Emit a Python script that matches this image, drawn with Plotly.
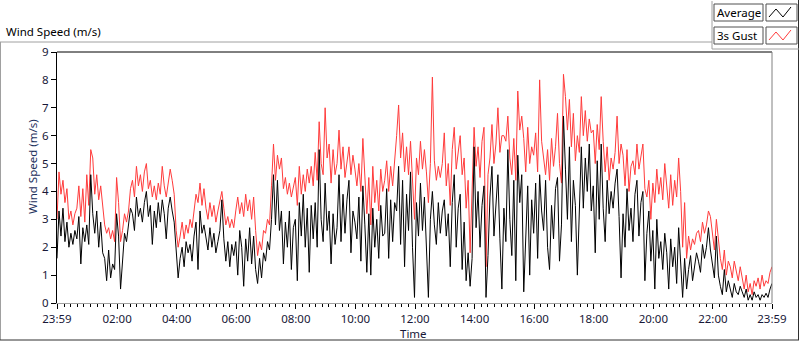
import pandas as pd
import plotly.graph_objects as go

# ---------------- data (one value every 4 minutes, 23:59 -> 23:59) ----------------
avg_speed = [
    1.6, 3.3, 2.4, 3.4, 2.2, 2.9, 2.0, 2.5, 2.1, 2.6, 2.3, 3.1, 1.4, 2.7, 2.2,
    2.8, 2.1, 4.6, 3.2, 2.5, 3.3, 2.0, 2.9, 1.8, 1.6, 0.8, 1.9, 0.9, 1.4, 1.2,
    3.2, 2.4, 0.5, 1.7, 2.5, 2.2, 2.8, 3.4, 3.2, 2.6, 3.8, 3.1, 3.4, 2.9, 3.6,
    4.0, 3.1, 3.5, 2.1, 3.3, 2.7, 3.6, 2.9, 3.7, 3.2, 2.3, 3.4, 3.8, 3.3, 2.9,
    1.9, 0.9, 1.6, 2.0, 1.3, 2.2, 1.8, 2.1, 1.5, 2.4, 2.9, 1.2, 3.3, 2.5, 2.8,
    2.4, 1.9, 2.7, 2.0, 2.5, 1.8, 2.2, 2.6, 3.7, 2.3, 1.5, 2.2, 1.3, 2.1, 1.7,
    2.2, 1.0, 2.6, 2.0, 0.6, 2.3, 1.5, 2.7, 1.4, 2.4, 1.2, 0.7, 1.6, 0.9, 1.8,
    1.5, 2.2, 1.9, 3.0, 4.6, 2.8, 4.4, 2.6, 3.3, 1.4, 2.9, 2.0, 3.3, 1.2, 2.7,
    3.0, 0.8, 3.6, 2.4, 3.9, 2.0, 3.4, 1.1, 3.5, 2.3, 3.6, 2.0, 5.5, 3.0, 2.2,
    4.3, 2.6, 3.3, 1.4, 3.2, 2.1, 2.7, 4.6, 2.2, 3.9, 2.5, 3.7, 4.4, 1.8, 3.3,
    2.9, 2.3, 3.8, 1.5, 4.2, 2.8, 1.1, 3.2, 1.0, 3.4, 2.0, 3.0, 1.6, 3.5, 2.4,
    2.5, 4.1, 1.6, 3.7, 2.2, 3.6, 3.3, 4.9, 2.1, 4.4, 1.3, 3.9, 2.6, 4.7, 2.0,
    0.2, 3.6, 2.4, 4.3, 2.6, 3.8, 2.2, 0.2, 3.0, 4.0, 2.8, 2.1, 3.6, 2.5, 3.3,
    3.7, 2.4, 3.2, 1.3, 3.6, 4.6, 2.0, 3.4, 3.9, 1.2, 2.9, 0.8, 1.8, 0.6, 1.6,
    5.6, 2.7, 4.0, 2.0, 3.5, 4.2, 0.2, 1.7, 3.8, 4.9, 2.4, 3.6, 4.6, 2.3, 0.5,
    3.4, 2.2, 5.5, 3.0, 1.7, 4.4, 0.8, 5.3, 3.6, 4.6, 0.4, 2.4, 4.2, 1.0, 3.7,
    2.5, 4.3, 1.6, 4.6, 3.3, 2.6, 4.4, 2.0, 1.2, 3.5, 2.3, 4.1, 4.5, 1.5, 2.8,
    6.7, 4.8, 3.0, 5.6, 2.2, 4.4, 3.5, 1.0, 3.8, 5.6, 3.4, 5.2, 4.0, 5.7, 3.3,
    4.2, 1.8, 5.1, 3.0, 5.7, 3.4, 2.2, 4.4, 3.2, 4.0, 3.4, 4.3, 4.8, 3.1, 0.9,
    3.2, 2.0, 4.1, 2.6, 3.4, 2.2, 3.9, 4.4, 2.4, 3.6, 4.0, 0.8, 2.5, 3.3, 1.5,
    2.6, 0.5, 3.0, 1.6, 2.2, 1.2, 2.5, 1.8, 0.5, 2.3, 1.3, 2.0, 0.7, 2.7, 1.5,
    0.2, 1.6, 0.5, 1.2, 1.7, 0.8, 1.4, 1.8, 1.5, 1.1, 2.1, 1.6, 2.0, 2.7, 1.9,
    1.3, 0.9, 2.4, 1.0, 0.6, 0.3, 1.2, 0.4, 0.8, 0.5, 0.2, 0.7, 0.4, 0.3, 0.6,
    0.4, 0.2, 0.5, 0.1, 0.3, 0.1, 0.4, 0.2, 0.3, 0.1, 0.3, 0.2, 0.35, 0.2, 0.5,
    0.7,
]

gust_speed = [
    3.0, 4.7, 3.9, 4.4, 3.6, 4.1, 3.0, 3.3, 2.8, 3.2, 3.4, 4.2, 3.1, 4.1, 2.9,
    4.6, 3.5, 5.5, 5.2, 3.9, 4.6, 3.7, 4.2, 3.4, 2.8, 2.5, 2.7, 2.3, 2.6, 2.2,
    4.5, 3.6, 2.2, 2.6, 3.2, 2.9, 3.3, 4.1, 4.4, 3.8, 4.9, 4.2, 4.6, 4.0, 4.7,
    5.0, 4.1, 4.4, 3.8, 4.2, 3.7, 4.3, 3.9, 4.9, 4.2, 3.8, 4.3, 4.8, 4.4, 3.9,
    2.6, 2.0, 2.4, 2.9, 2.3, 2.8, 2.5, 3.0, 2.7, 3.3, 3.9, 3.6, 4.3, 3.5, 4.1,
    3.4, 3.0, 3.6, 3.1, 3.5, 2.9, 3.3, 3.6, 4.0, 3.4, 2.8, 3.1, 2.7, 3.0, 2.7,
    3.3, 3.8, 3.2, 3.6, 3.1, 3.9, 3.3, 3.7, 3.0, 3.8, 2.6, 1.7, 2.2, 1.9, 2.6,
    2.5, 3.0, 2.8, 4.2, 5.7, 4.4, 5.3, 4.8, 5.2, 4.1, 4.5, 3.9, 4.3, 3.8, 4.2,
    4.5, 3.5, 4.9, 3.9, 4.6, 4.0, 4.8, 4.3, 4.9, 4.2, 5.4, 4.4, 6.5, 5.0, 4.6,
    7.0, 5.2, 5.7, 4.3, 5.5, 4.6, 5.0, 6.2, 4.8, 5.6, 4.5, 5.0, 5.6, 4.6, 5.3,
    4.8, 4.2, 5.0, 4.0, 5.9, 4.7, 3.2, 4.5, 2.8, 4.9, 3.6, 4.4, 3.3, 4.8, 4.0,
    4.4, 5.1, 4.0, 4.9, 4.2, 5.0, 6.0, 7.1, 5.2, 6.1, 4.7, 5.6, 4.6, 5.8, 4.2,
    3.0, 5.2, 4.6, 5.8, 4.8, 5.5, 4.7, 3.6, 5.0, 8.1, 5.1, 4.4, 4.9, 4.5, 5.0,
    6.1, 4.2, 5.0, 3.5, 5.5, 6.3, 4.8, 5.4, 6.0, 4.6, 5.2, 3.4, 4.4, 1.8, 3.9,
    6.3, 4.9, 5.6, 4.5, 5.8, 6.3, 1.3, 4.6, 5.2, 6.4, 5.0, 5.7, 7.0, 5.4, 6.0,
    6.0, 5.8, 6.7, 5.2, 4.6, 5.9, 4.4, 7.6, 6.2, 6.7, 5.9, 4.7, 6.3, 5.0, 5.6,
    5.3, 6.1, 4.7, 8.0, 5.8, 5.2, 4.6, 5.5, 4.4, 5.9, 4.9, 5.6, 6.8, 5.0, 4.3,
    8.2, 7.4, 6.2, 7.3, 5.6, 6.8, 5.1, 6.0, 5.4, 7.4, 6.0, 6.9, 5.8, 6.6, 6.1,
    6.2, 5.0, 6.4, 5.5, 7.4, 5.8, 4.7, 5.6, 4.4, 5.2, 4.8, 5.4, 6.7, 5.0, 5.7,
    5.3, 4.2, 5.5, 4.0, 4.9, 5.1, 4.6, 5.7, 4.8, 5.2, 5.7, 4.1, 3.8, 4.4, 3.0,
    4.3, 3.6, 4.8, 3.9, 4.5, 3.7, 5.0, 4.2, 3.4, 4.6, 3.5, 4.4, 3.8, 5.2, 4.0,
    2.0, 3.6, 1.6, 2.4, 1.9, 2.3, 2.1, 2.5, 2.6, 2.2, 2.9, 2.5, 2.8, 3.3, 3.1,
    2.4, 1.9, 3.0, 2.2, 1.6, 1.2, 1.9, 1.0, 1.5, 1.3, 0.9, 1.5, 1.1, 0.8, 1.3,
    0.9, 0.5, 1.0, 0.4, 0.7, 0.3, 0.8, 0.6, 0.9, 0.5, 1.0, 0.6, 0.8, 0.7, 1.1,
    1.3,
]

times = pd.date_range("2020-01-01 23:59", periods=len(avg_speed), freq="4min")

tick_times = ["2020-01-01 23:59", "2020-01-02 02:00", "2020-01-02 04:00",
              "2020-01-02 06:00", "2020-01-02 08:00", "2020-01-02 10:00",
              "2020-01-02 12:00", "2020-01-02 14:00", "2020-01-02 16:00",
              "2020-01-02 18:00", "2020-01-02 20:00", "2020-01-02 22:00",
              "2020-01-02 23:59"]
tick_labels = ["23:59", "02:00", "04:00", "06:00", "08:00", "10:00", "12:00",
               "14:00", "16:00", "18:00", "20:00", "22:00", "23:59"]
y_ticks = list(range(0, 10))

series_names = ["Average", "3s Gust"]
series_colors = ["#000000", "#ff3b3b"]

# ---------------- figure ----------------
W, H = 800, 342
L, R, T, B = 57, 772, 52, 303          # plot area in pixels


def px(x):
    return (x - L) / (R - L)


def py(y):
    return (B - y) / (B - T)


FONT = "Noto Sans"
FS = 11.5
TICK_COL = "#181838"

fig = go.Figure()
fig.add_trace(go.Scatter(x=times, y=gust_speed, mode="lines", name=series_names[1],
                         line=dict(color=series_colors[1], width=1), showlegend=False))
fig.add_trace(go.Scatter(x=times, y=avg_speed, mode="lines", name=series_names[0],
                         line=dict(color=series_colors[0], width=1), showlegend=False))

fig.update_layout(
    width=W, height=H,
    margin=dict(l=L, r=W - R, t=T, b=H - B, pad=0),
    paper_bgcolor="white", plot_bgcolor="white",
    font=dict(family=FONT, size=FS, color=TICK_COL),
    showlegend=False,
)

fig.update_xaxes(
    range=[tick_times[0], tick_times[-1]],
    tickmode="array", tickvals=tick_times, ticktext=tick_labels,
    ticks="outside", ticklen=5, tickwidth=1, tickcolor="black",
    showline=True, linecolor="#a0a0a0", linewidth=1,
    showgrid=False, zeroline=False,
    tickfont=dict(family=FONT, size=FS, color=TICK_COL),
    minor=dict(tickmode="linear", tick0="2020-01-02 02:00", dtick=800000,
               ticks="outside", ticklen=3, tickwidth=1, tickcolor="black",
               showgrid=False),
)
fig.update_yaxes(
    range=[0, 9], tickmode="array", tickvals=y_ticks,
    ticks="outside", ticklen=5, tickwidth=1, tickcolor="black",
    showline=True, linecolor="black", linewidth=1,
    showgrid=False, zeroline=False,
    tickfont=dict(family=FONT, size=FS, color=TICK_COL),
)

shapes = []


def hline(x0, x1, y, color, w=1):
    shapes.append(dict(type="line", xref="paper", yref="paper",
                       x0=px(x0), x1=px(x1), y0=py(y), y1=py(y),
                       line=dict(color=color, width=w)))


def vline(x, y0, y1, color, w=1):
    shapes.append(dict(type="line", xref="paper", yref="paper",
                       x0=px(x), x1=px(x), y0=py(y0), y1=py(y1),
                       line=dict(color=color, width=w)))


def rect(x0, y0, x1, y1, color, fill="white"):
    shapes.append(dict(type="rect", xref="paper", yref="paper",
                       x0=px(x0), x1=px(x1), y0=py(y1), y1=py(y0),
                       line=dict(color=color, width=1), fillcolor=fill))


# outer frame
hline(0, 712, 42, "#a0a0a0")
vline(0.5, 42, 340, "#a0a0a0")
hline(0, 799, 340, "#303030")
vline(798.5, 0, 340, "#303030")
# legend panel
vline(712, 1, 49, "#a0a0a0")
hline(712, 799, 49, "#a0a0a0")
# plot frame (top / right)
hline(L, R, T, "black")
vline(R, T, B, "#808080")

# legend boxes
leg_y = [(4, 21), (27, 44)]
for (y0, y1), name, col in zip(leg_y, series_names, series_colors):
    rect(714, y0, 763, y1, "#505050")
    rect(766, y0, 797, y1, "#505050")
    pts = [(769, y1 - 4), (776, y0 + 5), (783, y1 - 4), (791, y0 + 3)]
    path = "M " + " L ".join(f"{px(a):.5f},{py(b):.5f}" for a, b in pts)
    shapes.append(dict(type="path", xref="paper", yref="paper", path=path,
                       line=dict(color=col, width=1)))

annotations = []
for (y0, y1), name in zip(leg_y, series_names):
    annotations.append(dict(text=name, xref="paper", yref="paper",
                            x=px(715), y=py((y0 + y1) / 2), xanchor="left", yanchor="middle",
                            showarrow=False, font=dict(family=FONT, size=FS, color="black")))

annotations.append(dict(text="Wind Speed (m/s)", xref="paper", yref="paper",
                        x=px(4), y=py(31), xanchor="left", yanchor="middle",
                        showarrow=False, font=dict(family=FONT, size=FS, color="black")))
annotations.append(dict(text="Wind Speed (m/s)", xref="paper", yref="paper",
                        x=px(32), y=py(166), xanchor="center", yanchor="middle",
                        textangle=-90, showarrow=False,
                        font=dict(family=FONT, size=FS, color="#1c2f5c")))
annotations.append(dict(text="Time", xref="paper", yref="paper",
                        x=px(413), y=py(333.5), xanchor="center", yanchor="middle",
                        showarrow=False, font=dict(family=FONT, size=FS, color=TICK_COL)))

fig.update_layout(shapes=shapes, annotations=annotations)

fig.write_html("out.html", config={"displayModeBar": False},
               post_script="document.body.style.margin='0';")
